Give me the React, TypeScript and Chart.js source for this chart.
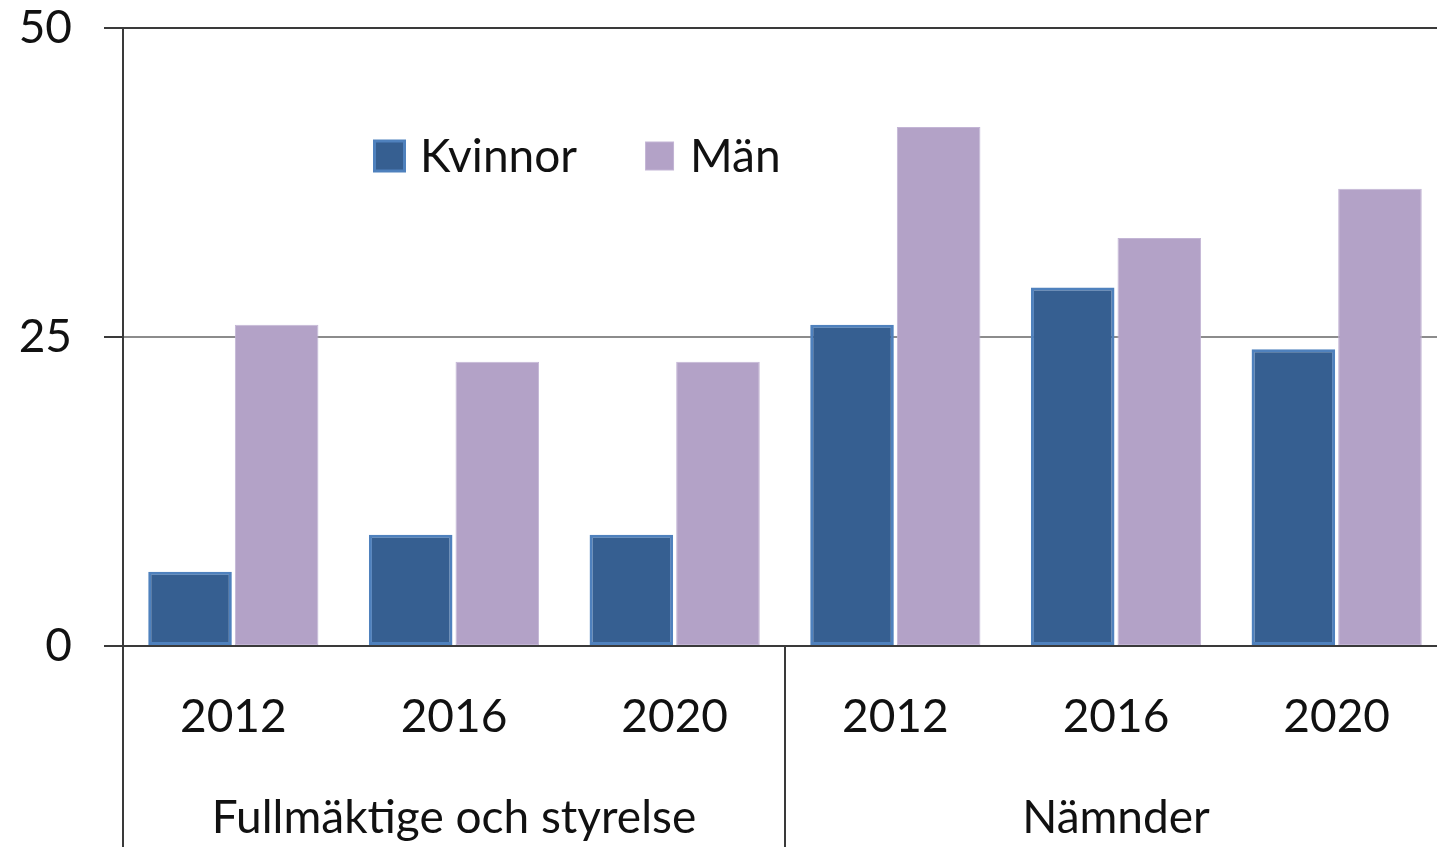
import React, { useEffect, useRef } from 'react';
import { Chart, registerables } from 'chart.js';

Chart.register(...registerables);

// ---- data ----
const years = ['2012', '2016', '2020', '2012', '2016', '2020'];
const groups = ['Fullmäktige och styrelse', 'Nämnder'];
const groupSizes = [3, 3];
const seriesNames = ['Kvinnor', 'Män'];
const kvinnor = [6, 9, 9, 26, 29, 24];
const man = [26, 23, 23, 42, 33, 37];
const yTickValues = [0, 25, 50];

const FONT = 'Lato, "Open Sans", sans-serif';
const FONT_SIZE = 46;
const TEXT = '#111111';
const AXIS = '#3a3a3a';
const W = 1447;
const H = 900;

const groupPlugin = {
  id: 'groupAxis',
  afterDraw(chart: any) {
    const ctx = chart.ctx;
    const x = chart.scales.x;
    const area = chart.chartArea;
    const bottom = chart.height;
    ctx.save();
    ctx.strokeStyle = AXIS;
    ctx.lineWidth = 2;
    const half = (x.getPixelForValue(1) - x.getPixelForValue(0)) / 2;
    let idx = 0;
    const bounds: number[] = [x.getPixelForValue(0) - half];
    groupSizes.forEach((n) => {
      idx += n;
      bounds.push(x.getPixelForValue(idx - 1) + half);
    });
    bounds.forEach((bx) => {
      ctx.beginPath();
      ctx.moveTo(Math.round(bx), area.bottom);
      ctx.lineTo(Math.round(bx), bottom);
      ctx.stroke();
    });
    ctx.fillStyle = TEXT;
    ctx.font = `${FONT_SIZE}px ${FONT}`;
    ctx.textAlign = 'center';
    ctx.textBaseline = 'middle';
    groups.forEach((g, i) => {
      const cx = (bounds[i] + bounds[i + 1]) / 2;
      ctx.fillText(g, cx, 818);
    });
    ctx.restore();
  },
};

const legendPlugin = {
  id: 'insideLegend',
  afterDraw(chart: any) {
    const ctx = chart.ctx;
    const area = chart.chartArea;
    const cy = 156;
    let cursor = area.left + 250;
    ctx.save();
    ctx.font = `${FONT_SIZE}px ${FONT}`;
    ctx.textBaseline = 'middle';
    ctx.textAlign = 'left';
    chart.data.datasets.forEach((ds: any, i: number) => {
      const size = i === 0 ? 33 : 29;
      const bw = i === 0 ? 3 : 1;
      ctx.fillStyle = ds.borderColor;
      ctx.fillRect(cursor, cy - size / 2, size, size);
      ctx.fillStyle = ds.backgroundColor;
      ctx.fillRect(cursor + bw, cy - size / 2 + bw, size - 2 * bw, size - 2 * bw);
      cursor += size + (i === 0 ? 14 : 16);
      ctx.fillStyle = TEXT;
      ctx.fillText(ds.label, cursor, cy + 1);
      cursor += ctx.measureText(ds.label).width + 68;
    });
    ctx.restore();
  },
};

export default function App() {
  const ref = useRef<HTMLCanvasElement>(null);
  useEffect(() => {
    if (!ref.current) return;
    const chart = new Chart(ref.current, {
      type: 'bar',
      data: {
        labels: years,
        datasets: [
          {
            label: seriesNames[0],
            data: kvinnor,
            backgroundColor: '#365F91',
            borderColor: '#4F81BD',
            borderWidth: 3,
            borderSkipped: false,
            categoryPercentage: 0.785,
            barPercentage: 0.965,
          },
          {
            label: seriesNames[1],
            data: man,
            backgroundColor: '#B3A2C7',
            borderColor: '#C3B5D5',
            borderWidth: 1,
            borderSkipped: false,
            categoryPercentage: 0.785,
            barPercentage: 0.965,
          },
        ],
      },
      options: {
        responsive: false,
        animation: false,
        layout: { padding: { top: 28, left: 0, right: 0, bottom: 0 } },
        plugins: { legend: { display: false }, tooltip: { enabled: false } },
        scales: {
          x: {
            grid: { display: false, drawTicks: false },
            border: { display: false },
            ticks: {
              font: { family: FONT, size: FONT_SIZE },
              color: TEXT,
              padding: 44,
              maxRotation: 0,
              autoSkip: false,
            },
            afterFit: (s: any) => {
              s.height = H - 646;
              s.paddingLeft = 0;
              s.paddingRight = 0;
            },
          },
          y: {
            min: 0,
            max: 50,
            afterBuildTicks: (s: any) => {
              s.ticks = yTickValues.map((v) => ({ value: v }));
            },
            ticks: {
              font: { family: FONT, size: FONT_SIZE },
              color: TEXT,
              padding: 32,
            },
            grid: {
              color: (c: any) => (c.tick && c.tick.value === 25 ? '#8c8c8c' : AXIS),
              lineWidth: 2,
              tickLength: 19,
              tickColor: AXIS,
            },
            border: { color: AXIS, width: 2 },
            afterFit: (s: any) => {
              s.width = 123;
              s.paddingTop = 0;
              s.paddingBottom = 0;
            },
          },
        },
      },
      plugins: [groupPlugin, legendPlugin],
    });
    return () => chart.destroy();
  }, []);

  return (
    <div
      style={{
        position: 'fixed',
        left: 0,
        top: 0,
        width: 1437,
        height: 847,
        overflow: 'hidden',
        background: '#ffffff',
      }}
    >
      <canvas ref={ref} width={W} height={H} style={{ display: 'block', width: W, height: H }} />
    </div>
  );
}
